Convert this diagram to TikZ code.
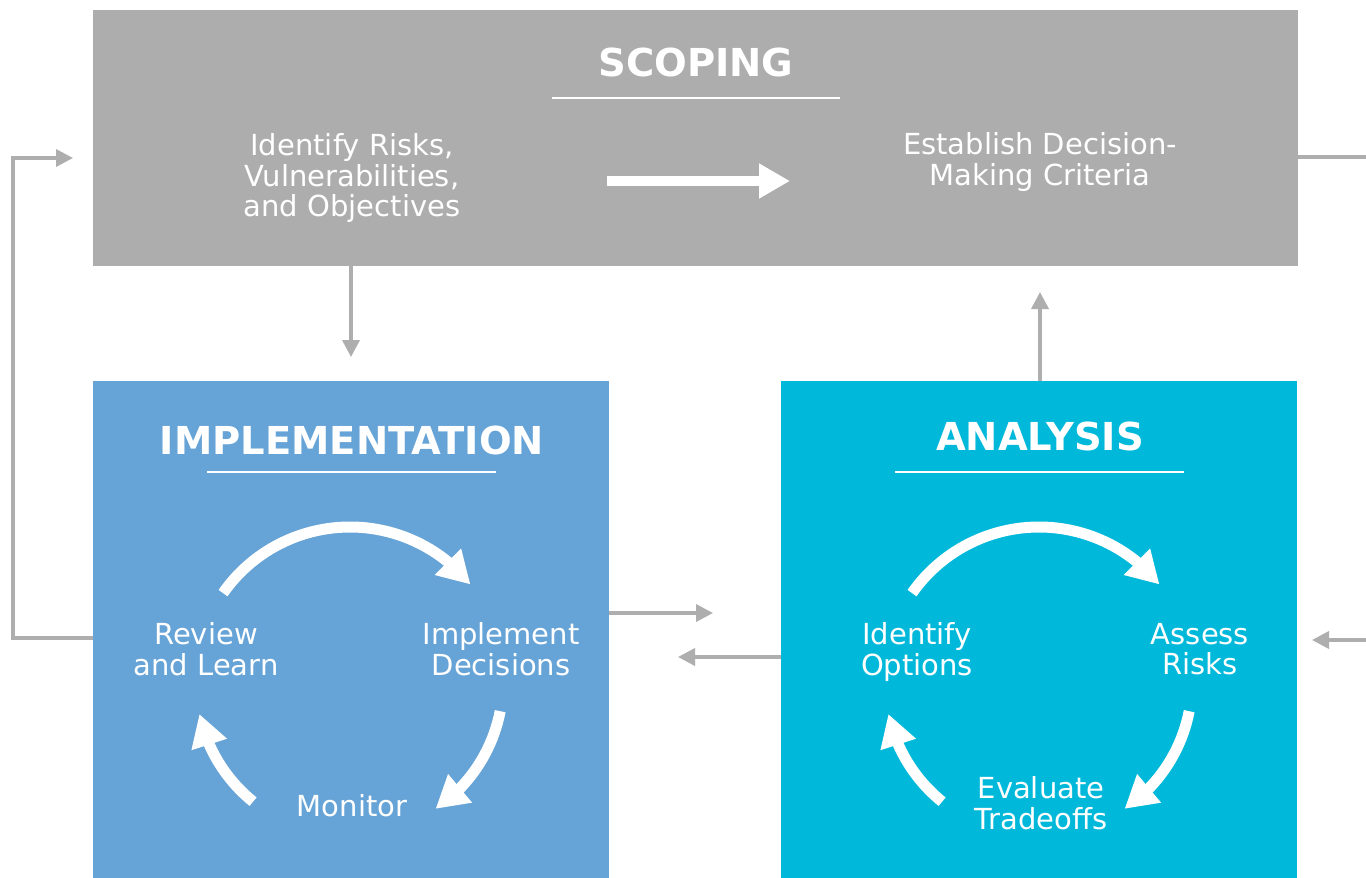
\documentclass[tikz,border=0pt]{standalone}
\usepackage{fontspec}
\setmainfont{DejaVu Sans}
\usetikzlibrary{arrows.meta,bending}
\definecolor{scopegray}{HTML}{ADADAD}
\definecolor{conngray}{HTML}{AEAEAE}
\definecolor{implblue}{HTML}{66A3D6}
\definecolor{anacyan}{HTML}{00B9DA}
\tikzset{
  panel/.style={rectangle, draw=none, inner sep=0pt, anchor=north west},
  paneltitle/.style={text=white, font=\fontsize{38.5}{40}\selectfont\bfseries, inner sep=0pt},
  label/.style={text=white, font=\fontsize{29}{30.5}\selectfont, align=center, inner sep=0pt},
  conn/.style={draw=conngray, line width=3.5pt, -{Triangle[length=17pt,width=17pt]}},
  connplain/.style={draw=conngray, line width=3.5pt},
  cyc/.style={draw=white, line width=11pt, -{Triangle[length=32pt,width=35pt,flex]}},
  bigarrow/.style={draw=white, line width=10pt, -{Triangle[length=31pt,width=33pt]}},
  rule/.style={draw=white, line width=2pt}
}
\begin{document}
\begin{tikzpicture}[x=1pt,y=-1pt]
\useasboundingbox[fill=white] (0,0) rectangle (1366,878);
% panels
\node[panel, fill=scopegray, minimum width=1205pt, minimum height=256pt] (scoping) at (93,10) {};
\node[panel, fill=implblue, minimum width=516pt, minimum height=497pt] (impl) at (93,381) {};
\node[panel, fill=anacyan, minimum width=516pt, minimum height=497pt] (analysis) at (781,381) {};
% titles
\node[paneltitle] (sctitle) at (696,62) {SCOPING};
\draw[rule] (552,98) -- (840,98);
\node[paneltitle] (imtitle) at (352,440) {IMPLEMENTATION};
\draw[rule] (207,472) -- (496,472);
\node[paneltitle] (antitle) at (1040,436) {ANALYSIS};
\draw[rule] (895,472) -- (1184,472);
% scoping content
\node[label, text depth=0pt] (idrisks) at (352,175) {Identify Risks,\\Vulnerabilities,\\and Objectives};
\node[label] (criteria) at (1040,162) {Establish Decision-\\Making Criteria};
\coordinate (bigA) at (607,181);
\coordinate (bigB) at (790,181);
\draw[bigarrow] (bigA) -- (bigB);
% implementation cycle
\node[label] (review) at (206,649) {Review\\and Learn};
\node[label] (impdec) at (501,649) {Implement\\Decisions};
\node[label] (monitor) at (352,806) {Monitor};
\coordinate (ic) at (350,682);
\draw[cyc] ([shift={(-145:155)}]ic) arc[start angle=-145, end angle=-39, radius=155];
\draw[cyc] ([shift={(11:153)}]ic) arc[start angle=11, end angle=56, radius=153];
\draw[cyc] ([shift={(129:154)}]ic) arc[start angle=129, end angle=168, radius=154];
% analysis cycle
\node[label] (idopt) at (917,652) {Identify\\Options};
\node[label] (assess) at (1200,649) {Assess\\Risks};
\node[label] (evaluate) at (1041,803) {Evaluate\\Tradeoffs};
\coordinate (ac) at (1039,682);
\draw[cyc] ([shift={(-145:155)}]ac) arc[start angle=-145, end angle=-39, radius=155];
\draw[cyc] ([shift={(11:153)}]ac) arc[start angle=11, end angle=56, radius=153];
\draw[cyc] ([shift={(129:154)}]ac) arc[start angle=129, end angle=168, radius=154];
% connectors
\coordinate (scdown) at (351,357);
\draw[conn] (scoping.south -| scdown) -- (scdown);
\coordinate (anup) at (1040,292);
\draw[conn] (analysis.north -| anup) -- (anup);
\coordinate (rexit) at (1366,157);
\draw[connplain] (scoping.east |- rexit) -- (rexit);
\coordinate (rin) at (1366,640);
\coordinate (rtip) at (1312,640);
\draw[conn] (rin) -- (rtip);
\coordinate (lloopA) at (13,638);
\coordinate (lloopB) at (13,158);
\coordinate (lloopC) at (73,158);
\draw[conn] (impl.west |- lloopA) -- (lloopA) -- (lloopB) -- (lloopC);
\coordinate (midR) at (713,613);
\draw[conn] (impl.east |- midR) -- (midR);
\coordinate (midL) at (678,657);
\draw[conn] (analysis.west |- midL) -- (midL);
\end{tikzpicture}
\end{document}
